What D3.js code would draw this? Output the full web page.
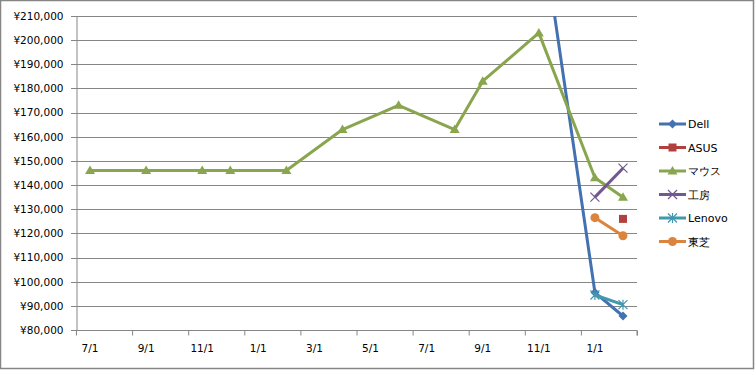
<!DOCTYPE html>
<html>
<head>
<meta charset="utf-8">
<script src="https://cdn.jsdelivr.net/npm/d3@7"></script>
<style>
    body { margin: 0; background: #fff; }
    text { font-family: "DejaVu Sans", sans-serif; }
</style>
</head>
<body>
<div id="chart"></div>
<script>
// month labels along the x axis (every 2 months, from July)
let tickLabels = ["7/1", "9/1", "11/1", "1/1", "3/1", "5/1", "7/1", "9/1", "11/1", "1/1"];
let yTicks = [80000, 90000, 100000, 110000, 120000, 130000, 140000, 150000, 160000, 170000, 180000, 190000, 200000, 210000];

// month index counted from the first July
let dellMonths = [16, 18, 19];
let dellValues = [255000, 95500, 85800];
let asusMonths = [19];
let asusValues = [126000];
let mouseMonths = [0, 2, 4, 5, 7, 9, 11, 13, 14, 16, 18, 19];
let mouseValues = [146000, 146000, 146000, 146000, 146000, 163000, 173000, 163000, 183000, 203000, 143000, 135000];
let koboMonths = [18, 19];
let koboValues = [135000, 147000];
let lenovoMonths = [18, 19];
let lenovoValues = [94500, 90500];
let toshibaMonths = [18, 19];
let toshibaValues = [126500, 119000];

let series = [
    {name: "Dell", color: "#4471b0", marker: "diamond", months: dellMonths, values: dellValues},
    {name: "ASUS", color: "#b0413e", marker: "square", months: asusMonths, values: asusValues},
    {name: "マウス", color: "#89a54e", marker: "triangle", months: mouseMonths, values: mouseValues},
    {name: "工房", color: "#71588f", marker: "x", months: koboMonths, values: koboValues},
    {name: "Lenovo", color: "#4198af", marker: "star", months: lenovoMonths, values: lenovoValues},
    {name: "東芝", color: "#db843d", marker: "circle", months: toshibaMonths, values: toshibaValues}
];

let W = 755, H = 370;

let svg = d3.select("#chart").append("svg")
    .attr("width", W)
    .attr("height", H);

svg.append("rect")
    .attr("x", 0.5).attr("y", 0.5)
    .attr("width", 753).attr("height", 368)
    .attr("fill", "#fff")
    .attr("stroke", "#868686")
    .attr("stroke-width", 1.5);

let x = d3.scaleLinear().domain([0, 20]).range([76, 637]);
let y = d3.scaleLinear().domain([80000, 210000]).range([330, 16]);

svg.append("clipPath").attr("id", "plot")
    .append("rect").attr("x", 76).attr("y", 16).attr("width", 561).attr("height", 314);

// gridlines
svg.append("g")
    .selectAll("line")
    .data(yTicks)
    .enter()
    .append("line")
    .attr("x1", 71).attr("x2", 637)
    .attr("y1", d => Math.round(y(d)) + 0.5)
    .attr("y2", d => Math.round(y(d)) + 0.5)
    .attr("stroke", "#868686");

// y axis
let yAxis = svg.append("g")
    .attr("transform", "translate(76.5,0)")
    .call(d3.axisLeft(y).tickValues(yTicks).tickSize(0).tickPadding(13)
        .tickFormat(d => "¥" + d3.format(",")(d)));
yAxis.select(".domain").attr("stroke", "#868686");
yAxis.selectAll("text").attr("font-size", 10.5).attr("fill", "#000");

// x axis
let xTickVals = d3.range(0, 21, 2);
let xAxis = svg.append("g")
    .attr("transform", "translate(0,330.5)")
    .call(d3.axisBottom(x).tickValues(xTickVals).tickSize(5).tickFormat(""));
xAxis.selectAll("line, path").attr("stroke", "#868686");
xAxis.select(".domain").attr("d", "M" + x(0) + ",0H" + x(20) + "V5");
svg.append("g")
    .selectAll("text")
    .data(tickLabels)
    .enter()
    .append("text")
    .attr("x", (d, i) => x(i * 2 + 0.5))
    .attr("y", 352)
    .attr("text-anchor", "middle")
    .attr("font-size", 10.5)
    .text(d => d);

let line = d3.line()
    .x(d => x(d[0] + 0.5))
    .y(d => y(d[1]));

function marker(g, type, color) {
    if (type == "diamond") {
        g.append("path").attr("d", "M0,-4.5L4.5,0L0,4.5L-4.5,0Z").attr("fill", color);
    } else if (type == "square") {
        g.append("rect").attr("x", -4).attr("y", -4).attr("width", 8).attr("height", 8).attr("fill", color);
    } else if (type == "triangle") {
        g.append("path").attr("d", "M0,-5L5,3.5L-5,3.5Z").attr("fill", color);
    } else if (type == "x") {
        g.append("path").attr("d", "M-4.5,-4.5L4.5,4.5M-4.5,4.5L4.5,-4.5").attr("stroke", color).attr("stroke-width", 1.2);
    } else if (type == "star") {
        g.append("path").attr("d", "M-4.5,-4.5L4.5,4.5M-4.5,4.5L4.5,-4.5M0,-5V5").attr("stroke", color).attr("stroke-width", 1.2);
    } else if (type == "circle") {
        g.append("circle").attr("r", 4.5).attr("fill", color);
    }
}

let plot = svg.append("g").attr("clip-path", "url(#plot)");

series.forEach(function(s) {
    let pts = s.months.map((m, i) => [m, s.values[i]]);
    if (pts.length > 1) {
        plot.append("path")
            .attr("d", line(pts))
            .attr("fill", "none")
            .attr("stroke", s.color)
            .attr("stroke-width", 3)
            .attr("stroke-linejoin", "round");
    }
    pts.forEach(function(p) {
        let g = plot.append("g").attr("transform", "translate(" + x(p[0] + 0.5) + "," + y(p[1]) + ")");
        marker(g, s.marker, s.color);
    });
});

// legend
let legend = svg.append("g");
series.forEach(function(s, i) {
    let ly = 124 + i * 23.5;
    legend.append("line")
        .attr("x1", 659).attr("x2", 686)
        .attr("y1", ly).attr("y2", ly)
        .attr("stroke", s.color)
        .attr("stroke-width", 3);
    let g = legend.append("g").attr("transform", "translate(672.5," + ly + ")");
    marker(g, s.marker, s.color);
    legend.append("text")
        .attr("x", 688)
        .attr("y", ly + 4)
        .attr("font-size", 11)
        .text(s.name);
});
</script>
</body>
</html>
